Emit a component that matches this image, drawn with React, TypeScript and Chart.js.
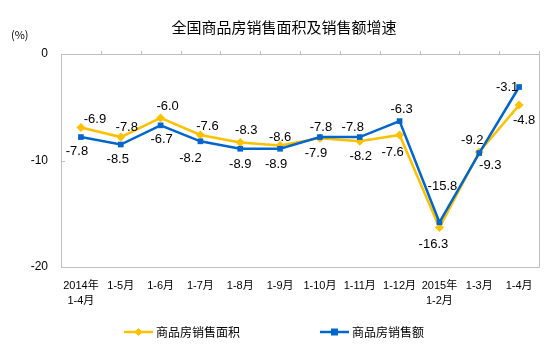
import React, { useEffect, useRef } from "react";
import { Chart, registerables } from "chart.js";

Chart.register(...registerables);

const categories: (string | string[])[] = [
  ["2014年", "1-4月"],
  "1-5月",
  "1-6月",
  "1-7月",
  "1-8月",
  "1-9月",
  "1-10月",
  "1-11月",
  "1-12月",
  ["2015年", "1-2月"],
  "1-3月",
  "1-4月",
];

const areaGrowth = [-6.9, -7.8, -6.0, -7.6, -8.3, -8.6, -7.9, -8.2, -7.6, -16.3, -9.2, -4.8];
const salesGrowth = [-7.8, -8.5, -6.7, -8.2, -8.9, -8.9, -7.8, -7.8, -6.3, -15.8, -9.3, -3.1];

const seriesNames = ["商品房销售面积", "商品房销售额"];
const titleText = "全国商品房销售面积及销售额增速";
const unitText = "(%)";
const yMin = -20;
const yMax = 0;
const yStep = 10;

const YELLOW = "#FFC000";
const BLUE = "#0066CC";
const AXIS = "#BFBFBF";
const CJK = "'Noto Sans CJK SC', sans-serif";
const LATIN = "'Liberation Sans', Arial, 'Noto Sans CJK SC', sans-serif";

// label offsets (dx, dy) relative to each point, per dataset
const labelOffsets: number[][][] = [
  [[14, -8], [6, -10], [7, -11], [7, -9], [6, -12], [0, -8], [-4, 15], [1, 15], [-7, 17], [-6, 17], [-7, -12], [5, 15]],
  [[-4, 14], [-3, 15], [1, 14], [-10, 17], [0, 16], [-4, 16], [1, -10], [-7, -10], [2, -12], [3, -36], [11, 12], [-12, 0]],
];

const decorPlugin = {
  id: "decor",
  beforeDatasetsDraw(chart: any) {
    const { ctx, chartArea } = chart;
    const { left, right, top, bottom } = chartArea;
    ctx.save();
    ctx.strokeStyle = AXIS;
    ctx.lineWidth = 1;
    ctx.beginPath();
    ctx.moveTo(left, top + 0.5);
    ctx.lineTo(right + 0.5, top + 0.5);
    ctx.lineTo(right + 0.5, bottom + 0.5);
    ctx.lineTo(left, bottom + 0.5);
    ctx.stroke();
    const n = categories.length;
    const w = (right - left) / n;
    ctx.beginPath();
    for (let i = 1; i <= n; i++) {
      const x = Math.round(left + i * w) + 0.5;
      ctx.moveTo(x, top - 3);
      ctx.lineTo(x, top + 1);
    }
    // inward y ticks
    const ys = chart.scales.y;
    for (let v = yMax - yStep; v > yMin; v -= yStep) {
      const y = Math.round(ys.getPixelForValue(v)) + 0.5;
      ctx.moveTo(left, y);
      ctx.lineTo(left + 4, y);
    }
    ctx.stroke();
    ctx.restore();
  },
  afterDatasetsDraw(chart: any) {
    const { ctx } = chart;
    ctx.save();
    ctx.fillStyle = "#000";
    ctx.font = `13px ${LATIN}`;
    ctx.textAlign = "center";
    ctx.textBaseline = "middle";
    chart.data.datasets.forEach((ds: any, di: number) => {
      const meta = chart.getDatasetMeta(di);
      meta.data.forEach((pt: any, i: number) => {
        const off = labelOffsets[di][i];
        ctx.fillText(ds.data[i].toFixed(1), pt.x + off[0], pt.y + off[1]);
      });
    });
    ctx.restore();
  },
  afterDraw(chart: any) {
    const { ctx } = chart;
    ctx.save();
    ctx.fillStyle = "#000";
    ctx.textBaseline = "middle";
    // title
    ctx.font = `15px ${CJK}`;
    ctx.textAlign = "center";
    ctx.fillText(titleText, 284, 27);
    // unit
    ctx.font = `11px ${CJK}`;
    ctx.textAlign = "left";
    ctx.fillText(unitText, 11, 35);
    // legend
    const items = [
      { x: 124, color: YELLOW, style: "diamond", name: seriesNames[0] },
      { x: 320, color: BLUE, style: "square", name: seriesNames[1] },
    ];
    const ly = 332;
    items.forEach((it) => {
      ctx.strokeStyle = it.color;
      ctx.fillStyle = it.color;
      ctx.lineWidth = 2.5;
      ctx.beginPath();
      ctx.moveTo(it.x, ly);
      ctx.lineTo(it.x + 29, ly);
      ctx.stroke();
      const cx = it.x + 14.5;
      ctx.beginPath();
      if (it.style === "diamond") {
        ctx.moveTo(cx, ly - 4);
        ctx.lineTo(cx + 4, ly);
        ctx.lineTo(cx, ly + 4);
        ctx.lineTo(cx - 4, ly);
        ctx.closePath();
      } else {
        ctx.rect(cx - 3.5, ly - 3.5, 7, 7);
      }
      ctx.fill();
      ctx.fillStyle = "#000";
      ctx.font = `12px ${CJK}`;
      ctx.textAlign = "left";
      ctx.fillText(it.name, it.x + 32, ly);
    });
    ctx.restore();
  },
};

export default function App() {
  const ref = useRef<HTMLCanvasElement | null>(null);

  useEffect(() => {
    if (!ref.current) return;
    const chart = new Chart(ref.current, {
      type: "line",
      data: {
        labels: categories as any,
        datasets: [
          {
            label: seriesNames[0],
            data: areaGrowth,
            borderColor: YELLOW,
            backgroundColor: YELLOW,
            borderWidth: 2.5,
            pointStyle: "rectRot",
            pointRadius: 4.5,
            pointBorderWidth: 0,
            tension: 0,
            order: 1,
          },
          {
            label: seriesNames[1],
            data: salesGrowth,
            borderColor: BLUE,
            backgroundColor: BLUE,
            borderWidth: 2.5,
            pointStyle: "rect",
            pointRadius: 4,
            pointBorderWidth: 0,
            tension: 0,
            order: 0,
          },
        ],
      },
      options: {
        responsive: false,
        animation: false,
        layout: { padding: { top: 54, right: 15, left: 0, bottom: 0 } },
        plugins: {
          legend: { display: false },
          tooltip: { enabled: false },
          title: { display: false },
        },
        scales: {
          x: {
            type: "category",
            offset: true,
            grid: { display: false },
            border: { display: false },
            ticks: {
              color: "#000",
              font: { size: 11, family: LATIN, lineHeight: 1.35 },
              padding: 4,
              maxRotation: 0,
              autoSkip: false,
            },
            afterFit: (s: any) => {
              s.height = 86;
            },
          },
          y: {
            min: yMin,
            max: yMax,
            ticks: {
              stepSize: yStep,
              color: "#000",
              font: { size: 12, family: LATIN },
              padding: 13,
            },
            grid: { drawOnChartArea: false, drawTicks: false, color: AXIS },
            border: { color: AXIS, width: 1 },
            afterFit: (s: any) => {
              s.width = 61;
            },
          },
        },
      },
      plugins: [decorPlugin],
    });
    return () => chart.destroy();
  }, []);

  return (
    <div style={{ position: "absolute", left: 0, top: 0, width: 554, height: 353, background: "#fff" }}>
      <canvas ref={ref} width={554} height={353} style={{ display: "block" }} />
    </div>
  );
}
